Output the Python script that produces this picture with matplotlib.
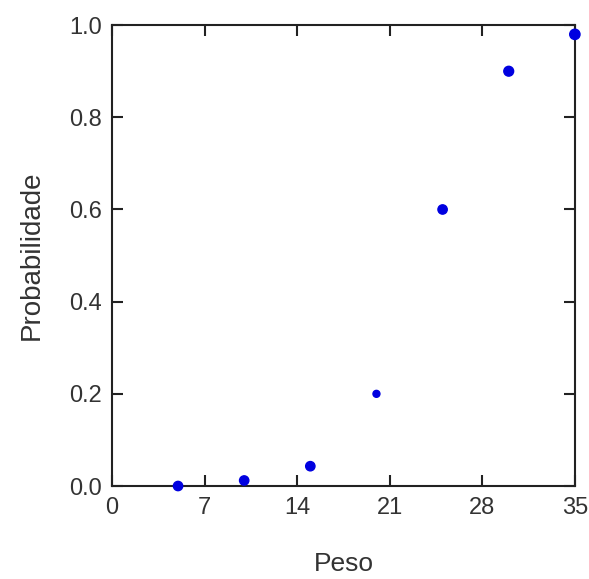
import matplotlib.pyplot as plt

plt.rcParams['font.family'] = ['Liberation Sans', 'DejaVu Sans']

peso = [5, 10, 15, 20, 25, 30, 35]
probabilidade = [0.0, 0.012, 0.043, 0.20, 0.60, 0.90, 0.98]
sizes = [45, 45, 45, 25, 45, 50, 55]

x_ticks = [0, 7, 14, 21, 28, 35]
y_ticks = [0.0, 0.2, 0.4, 0.6, 0.8, 1.0]

fig = plt.figure(figsize=(5.89, 5.79), dpi=100)
ax = fig.add_axes([0.190, 0.1606, 0.786, 0.796])

ax.scatter(peso, probabilidade, s=sizes, color='#0000e0', zorder=3, clip_on=False)

ax.set_xlim(0, 35)
ax.set_ylim(0, 1.0)
ax.set_xticks(x_ticks)
ax.set_yticks(y_ticks)
ax.set_yticklabels([f"{v:.1f}" for v in y_ticks])
ax.tick_params(direction='in', length=8, width=1.5, top=True, right=True,
               labelsize=17, color='#222222', labelcolor='#333333')
ax.tick_params(axis='x', pad=8)
ax.tick_params(axis='y', pad=7)
for s in ax.spines.values():
    s.set_linewidth(1.5)
    s.set_color('#222222')

ax.set_xlabel('Peso', fontsize=19, color='#333333', labelpad=24)
ax.set_ylabel('Probabilidade', fontsize=20, color='#333333', labelpad=18)

fig.savefig('out.png', dpi=100)
